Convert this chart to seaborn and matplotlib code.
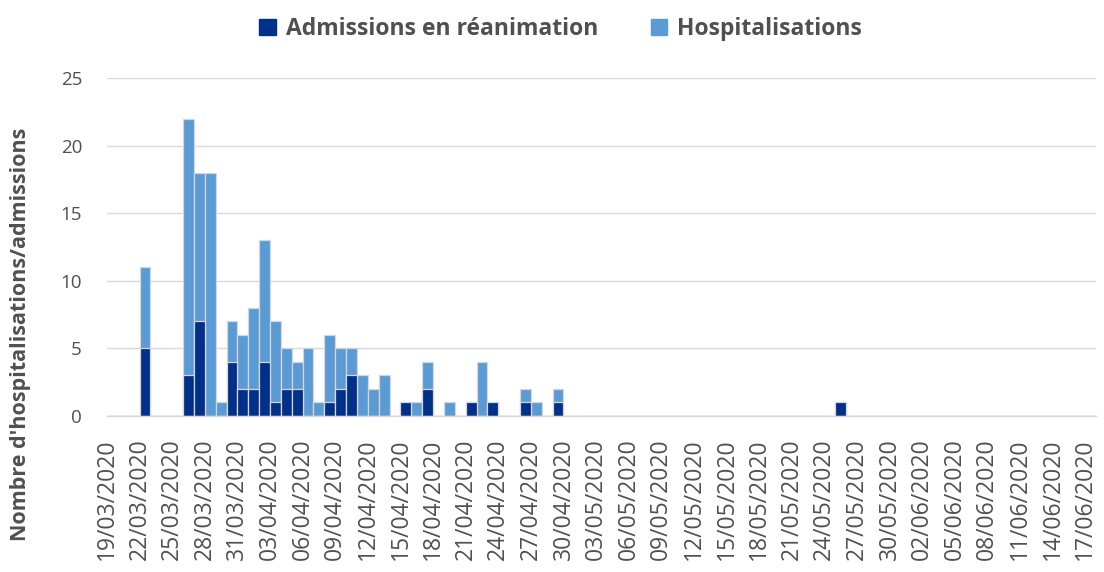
import matplotlib
matplotlib.use("Agg")
import matplotlib.pyplot as plt
from matplotlib.patches import Patch
import seaborn as sns
import pandas as pd
import numpy as np

# ---- data ----
dates = pd.date_range("2020-03-19", "2020-06-17", freq="D").strftime("%d/%m/%Y").tolist()

reanimation = [0, 0, 0, 5, 0, 0, 0, 3, 7, 0,
               0, 4, 2, 2, 4, 1, 2, 2, 0, 0,
               1, 2, 3, 0, 0, 0, 0, 1, 0, 2,
               0, 0, 0, 1, 0, 1, 0, 0, 1, 0,
               0, 1, 0, 0, 0, 0, 0, 0, 0, 0,
               0, 0, 0, 0, 0, 0, 0, 0, 0, 0,
               0, 0, 0, 0, 0, 0, 0, 1, 0, 0,
               0, 0, 0, 0, 0, 0, 0, 0, 0, 0,
               0, 0, 0, 0, 0, 0, 0, 0, 0, 0,
               0]
hospitalisations = [0, 0, 0, 6, 0, 0, 0, 19, 11, 18,
                    1, 3, 4, 6, 9, 6, 3, 2, 5, 1,
                    5, 3, 2, 3, 2, 3, 0, 0, 1, 2,
                    0, 1, 0, 0, 4, 0, 0, 0, 1, 1,
                    0, 1, 0, 0, 0, 0, 0, 0, 0, 0,
                    0, 0, 0, 0, 0, 0, 0, 0, 0, 0,
                    0, 0, 0, 0, 0, 0, 0, 0, 0, 0,
                    0, 0, 0, 0, 0, 0, 0, 0, 0, 0,
                    0, 0, 0, 0, 0, 0, 0, 0, 0, 0,
                    0]
series_names = ["Admissions en réanimation", "Hospitalisations"]
y_ticks = [0, 5, 10, 15, 20, 25]
y_label = "Nombre d'hospitalisations/admissions"

DARK = "#00308A"
LIGHT = "#5B9BD5"
GRID = "#D9D9D9"
TXT = "#505050"

df = pd.DataFrame({"date": dates,
                   "rea": reanimation,
                   "hosp": hospitalisations})
df["total"] = df["rea"] + df["hosp"]

sns.set_style("white")
plt.rcParams["font.family"] = ["Open Sans", "DejaVu Sans"]

fig = plt.figure(figsize=(11.04, 5.72), dpi=100)
ax = fig.add_axes([107 / 1104, 1 - 416 / 572, (1096 - 107) / 1104, (416 - 78) / 572])

common = dict(order=dates, width=1.0, edgecolor="#D6D6D6", linewidth=0.9,
              saturation=1, errorbar=None, ax=ax)
sns.barplot(data=df, x="date", y="total", color=LIGHT, **common)
sns.barplot(data=df, x="date", y="rea", color=DARK, **common)

ax.set_xlim(-0.5, len(dates) - 0.5)
ax.set_ylim(0, 25)
ax.set_yticks(y_ticks)
ax.yaxis.grid(True, color=GRID, linewidth=1.0)
ax.set_axisbelow(True)
for s in ["top", "right", "left"]:
    ax.spines[s].set_visible(False)
ax.spines["bottom"].set_color(GRID)
ax.spines["bottom"].set_linewidth(1.0)

idx = np.arange(0, len(dates), 3)
ax.set_xticks(idx - 0.5)
ax.set_xticklabels([dates[i] for i in idx], rotation=90, ha="center", va="top",
                   fontsize=16.5, color=TXT)
ax.tick_params(axis="x", length=7, width=1, color=GRID, pad=9)
ax.tick_params(axis="y", length=0, pad=18, labelsize=13.5, labelcolor=TXT)
ax.set_xlabel("")
ax.set_ylabel("")

fig.text(21 / 1104, 1 - 334 / 572, y_label, rotation=90, ha="center", va="center",
         fontsize=15.5, fontweight="bold", color=TXT)

handles = [Patch(facecolor=DARK, edgecolor=DARK), Patch(facecolor=LIGHT, edgecolor=LIGHT)]
fig.legend(handles, series_names, loc="center", bbox_to_anchor=(0.508, 0.949), ncol=2,
           frameon=False, handlelength=0.7, handleheight=0.7, handletextpad=0.45,
           columnspacing=2.3, prop={"size": 16.5, "weight": "bold"}, labelcolor=TXT)

fig.savefig("out.png", dpi=100)
